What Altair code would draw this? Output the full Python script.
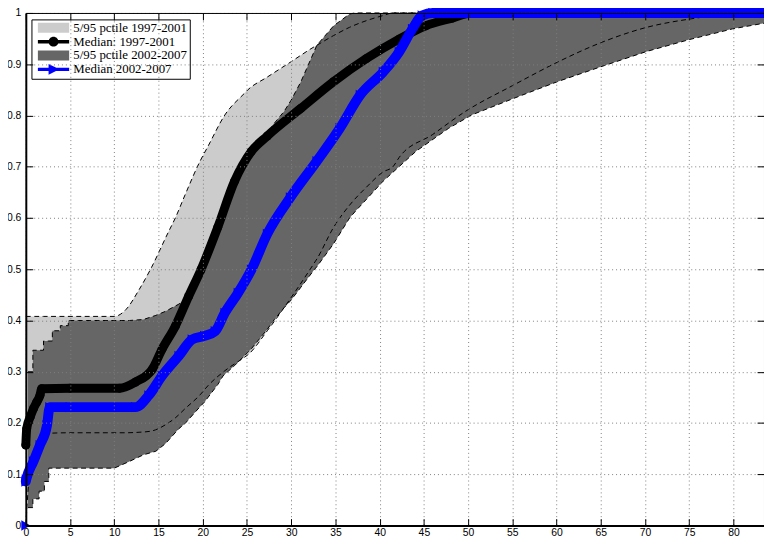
import altair as alt
import pandas as pd

# ---- 5/95 percentile band 1997-2001 (light grey) ----
band1_x = [0.0, 0.5, 1.0, 2.0, 2.6, 5.0, 10.0,
           11.3, 12.8, 14.1, 16.1, 16.9, 18.0, 19.7, 20.6, 22.5, 24.7, 25.1, 27.3,
           30.0, 32.6, 32.9, 34.8, 36.6, 38.5, 40.4, 41.5,
           42.2, 46.0, 49.7, 55.1, 60.1, 65.0, 70.2, 75.0, 80.0, 83.45]
band1_hi = [0.408, 0.408, 0.408, 0.408, 0.408, 0.408, 0.408,
            0.421, 0.46, 0.50, 0.572, 0.60, 0.645, 0.711, 0.74, 0.801, 0.843, 0.85, 0.875,
            0.905, 0.934, 0.937, 0.956, 0.972, 0.985, 0.995, 1.0,
            1.0, 1.0, 1.0, 1.0, 1.0, 1.0, 1.0, 1.0, 1.0, 1.0]
band1_lo = [0.0, 0.11, 0.13, 0.165, 0.18, 0.181, 0.181,
            0.181, 0.182, 0.184, 0.20, 0.21, 0.228, 0.255, 0.273, 0.302, 0.328, 0.333, 0.38,
            0.445, 0.512, 0.52, 0.582, 0.625, 0.66, 0.69, 0.70,
            0.718, 0.763, 0.808, 0.859, 0.904, 0.942, 0.972, 0.988, 0.998, 1.0]

# ---- 5/95 percentile band 2002-2007 (dark grey) ----
band2_x = [0.25, 0.8, 0.8, 1.5, 1.5, 2.0, 2.0, 2.1, 2.1, 2.6, 2.6, 3.0, 3.0, 3.9, 3.9, 4.8, 4.8,
           10.0, 11.7, 13.3, 14.7, 15.8, 17.3, 18.0,
           19.7, 20.2, 21.7, 22.3, 23.6, 25.1, 25.5, 27.3,
           28.1, 29.2, 30.0, 31.1, 32.6, 32.9, 34.8, 36.6, 37.2,
           40.4, 44.1, 47.8, 50.4, 55.1, 60.1, 65.0, 70.2, 75.0, 79.9, 83.45]
band2_hi = [0.30, 0.30, 0.342, 0.342, 0.342, 0.342, 0.36, 0.36, 0.36, 0.36, 0.36, 0.36, 0.38, 0.38, 0.39, 0.39, 0.40,
            0.40, 0.40, 0.402, 0.41, 0.418, 0.432, 0.44,
            0.49, 0.51, 0.575, 0.60, 0.665, 0.715, 0.725, 0.765,
            0.785, 0.808, 0.83, 0.866, 0.925, 0.937, 0.975, 0.998, 1.0,
            1.0, 1.0, 1.0, 1.0, 1.0, 1.0, 1.0, 1.0, 1.0, 1.0, 1.0]
band2_lo = [0.035, 0.035, 0.052, 0.052, 0.067, 0.067, 0.067, 0.067, 0.086, 0.086, 0.112, 0.112, 0.112, 0.112, 0.112, 0.112, 0.112,
            0.112, 0.125, 0.138, 0.145, 0.16, 0.189, 0.199,
            0.232, 0.241, 0.275, 0.292, 0.312, 0.338, 0.345, 0.383,
            0.402, 0.425, 0.44, 0.465, 0.499, 0.505, 0.55, 0.60, 0.612,
            0.672, 0.73, 0.775, 0.801, 0.833, 0.866, 0.895, 0.925, 0.948, 0.969, 0.98]

# ---- Median 1997-2001 (black, circles) ----
med1_x = [0.0, 0.1, 0.5, 0.86, 1.24, 1.6, 1.8, 5.0, 10.6, 12.4, 14.3, 15.4, 16.9, 18.4,
          19.8, 21.7, 23.6, 25.5, 27.3, 31.1, 34.8, 38.5, 42.2, 45.2, 48.2, 50.4, 83.45]
med1_y = [0.157, 0.189, 0.212, 0.228, 0.241, 0.254, 0.267, 0.268, 0.268, 0.28, 0.305, 0.344, 0.389, 0.447,
          0.499, 0.582, 0.672, 0.730, 0.760, 0.814, 0.866, 0.911, 0.949, 0.975, 0.990, 1.0, 1.0]

# ---- Median 2002-2007 (blue, right triangles) ----
med2_x = [0.0, 0.0, 0.05, 0.86, 1.6, 2.4, 2.7, 5.0, 12.4, 13.9, 15.4, 17.3, 18.8, 20.2, 21.4,
          22.5, 24.0, 25.5, 27.3, 29.9, 32.9, 35.5, 37.8, 40.4, 42.2, 43.7, 44.8, 46.0, 83.45]
med2_y = [0.0, 0.086, 0.09, 0.125, 0.157, 0.196, 0.231, 0.231, 0.231, 0.254, 0.292, 0.331, 0.363, 0.37, 0.379,
          0.415, 0.454, 0.499, 0.569, 0.64, 0.711, 0.775, 0.84, 0.885, 0.924, 0.969, 0.995, 1.0, 1.0]

series_names = ["5/95 pctile 1997-2001", "Median: 1997-2001", "5/95 pctile 2002-2007", "Median 2002-2007"]
series_colors = ["#cccccc", "#000000", "#666666", "#0000ff"]

x_ticks = [0, 5, 10, 15, 20, 25, 30, 35, 40, 45, 50, 55, 60, 65, 70, 75, 80]
y_ticks = [0, 0.1, 0.2, 0.3, 0.4, 0.5, 0.6, 0.7, 0.8, 0.9, 1.0]

# ---- tables ----
df1 = pd.DataFrame({"x": band1_x, "hi": band1_hi, "lo": band1_lo})
df2 = pd.DataFrame({"x": band2_x, "hi": band2_hi, "lo": band2_lo})


def edge_table(parts):
    out = []
    for name, xs_, ys_ in parts:
        out.append(pd.DataFrame({"x": xs_, "y": ys_, "edge": name, "i": range(len(xs_))}))
    return pd.concat(out, ignore_index=True)


edge1_df = edge_table([("u1", band1_x, band1_hi), ("l1", band1_x, band1_lo)])
edge2_df = edge_table([("u2", band2_x, band2_hi), ("l2", band2_x, band2_lo)])
m1 = pd.DataFrame({"x": med1_x, "y": med1_y, "i": range(len(med1_x))})
m2 = pd.DataFrame({"x": med2_x, "y": med2_y, "i": range(len(med2_x))})
leg_df = pd.DataFrame({"series": series_names, "x": [0.0] * 4, "y": [0.0] * 4})

legend_paths = [
    "M-0.4,-1H5.92V1H-0.4Z",
    "M-0.4,-0.35H5.92V0.35H-0.4Z M3.76,0A1,1 0 1,1 1.76,0A1,1 0 1,1 3.76,0Z",
    "M-0.4,-1H5.92V1H-0.4Z",
    "M-0.4,-0.35H5.92V0.35H-0.4Z M1.76,-1.1L3.96,0L1.76,1.1Z",
]

xs = alt.Scale(domain=[0, 83.45], nice=False, zero=False)
ys = alt.Scale(domain=[0, 1], nice=False, zero=False)
NEG = alt.ExprRef(expr="-7")

common = dict(title=None, tickColor="black", tickWidth=1, domainColor="black", zindex=1)
ax_bottom = alt.Axis(orient="bottom", values=x_ticks, format="d", grid=True, gridColor="#808080",
                     gridDash=[1, 3], gridWidth=1, tickSize=NEG, domainWidth=2,
                     labelFont="Liberation Sans", labelFontSize=10.5, labelColor="black",
                     labelPadding=9, labelFlush=False, labelOverlap=False, **common)
ax_left = alt.Axis(orient="left", values=y_ticks, format="~g", grid=True, gridColor="#808080",
                   gridDash=[1, 3], gridWidth=1, tickSize=NEG, domainWidth=2,
                   labelFont="Liberation Sans", labelFontSize=10.5, labelColor="black",
                   labelPadding=12, labelFlush=False, labelOverlap=False, **common)
ax_top = alt.Axis(orient="top", values=x_ticks, labels=False, grid=False, tickSize=NEG,
                  domainWidth=1, **common)
ax_right = alt.Axis(orient="right", values=y_ticks, labels=False, grid=False, tickSize=NEG,
                    domainWidth=1, **common)

X0 = alt.X("x:Q", scale=xs, axis=None)
Y0 = alt.Y("y:Q", scale=ys, axis=None)

light = alt.Chart(df1).mark_area(color="#cccccc", opacity=1, interpolate="monotone").encode(
    x=alt.X("x:Q", scale=xs, axis=ax_bottom),
    y=alt.Y("hi:Q", scale=ys, axis=ax_left),
    y2="lo:Q",
)
dark = alt.Chart(df2).mark_area(color="#666666", opacity=1).encode(
    x=alt.X("x:Q", scale=xs, axis=ax_top),
    y=alt.Y("hi:Q", scale=ys, axis=ax_right),
    y2="lo:Q",
)
edges1 = alt.Chart(edge1_df).mark_line(color="black", strokeWidth=1, strokeDash=[5, 3.5],
                                       interpolate="monotone").encode(
    x=X0, y=Y0, detail="edge:N", order="i:Q")
edges2 = alt.Chart(edge2_df).mark_line(color="black", strokeWidth=1, strokeDash=[5, 3.5]).encode(
    x=X0, y=Y0, detail="edge:N", order="i:Q")
med1_line = alt.Chart(m1).mark_line(color="black", strokeWidth=9, strokeJoin="round", strokeCap="round",
                                    interpolate="monotone").encode(x=X0, y=Y0, order="i:Q")
med1_pts = alt.Chart(m1).mark_point(shape="circle", filled=True, size=81, color="black", opacity=1).encode(
    x=X0, y=Y0)
med2_line = alt.Chart(m2.iloc[1:]).mark_line(color="#0000ff", strokeWidth=10, strokeJoin="round",
                                             strokeCap="round", interpolate="monotone").encode(
    x=X0, y=Y0, order="i:Q")
med2_pts = alt.Chart(m2).mark_point(shape="triangle-right", filled=True, size=110, color="#0000ff",
                                    opacity=1).encode(x=X0, y=Y0)

leg = alt.Legend(title=None, orient="none", legendX=5.7, legendY=6.5, padding=2,
                 fillColor="white", strokeColor="black", symbolSize=100, symbolStrokeWidth=0,
                 symbolOpacity=1, labelFont="Liberation Serif", labelFontSize=13, labelColor="black",
                 labelOffset=27.3, labelLimit=400, rowPadding=0)
legend_layer = alt.Chart(leg_df).mark_point(filled=True, size=100, opacity=0).encode(
    x=X0,
    y=Y0,
    color=alt.Color("series:N", scale=alt.Scale(domain=series_names, range=series_colors), legend=leg),
    shape=alt.Shape("series:N", scale=alt.Scale(domain=series_names, range=legend_paths), legend=leg),
)

chart = alt.layer(light, dark, edges1, edges2, med1_line, med1_pts, med2_line, med2_pts,
                  legend_layer).resolve_axis(
    x="independent", y="independent"
).properties(
    width=746, height=518,
    padding={"left": 18, "top": 2.2, "right": 0, "bottom": 14},
    autosize=alt.AutoSizeParams(type="none"),
    background="white",
).configure_view(stroke=None)

chart.save("out.html", embed_options={"renderer": "svg", "actions": False})
